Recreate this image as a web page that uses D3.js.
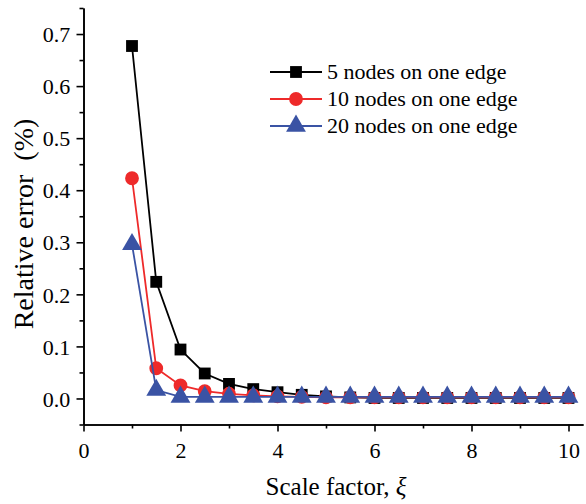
<!DOCTYPE html>
<html><head><meta charset="utf-8">
<script src="https://cdn.jsdelivr.net/npm/d3@7"></script>
<style>html,body{margin:0;padding:0;background:#fff} svg text{font-family:'Liberation Serif','Times New Roman',serif}</style>
</head><body><svg id="c" width="586" height="504"></svg>
<script>
const xVals = [1,1.5,2,2.5,3,3.5,4,4.5,5,5.5,6,6.5,7,7.5,8,8.5,9,9.5,10];
const s5  = [0.677,0.224,0.094,0.048,0.028,0.018,0.012,0.007,0.004,0.002,0.001,0.001,0.001,0.001,0.001,0.001,0.001,0.001,0.001];
const s10 = [0.423,0.058,0.025,0.014,0.009,0.006,0.004,0.003,0.002,0.002,0.002,0.002,0.002,0.002,0.002,0.002,0.002,0.002,0.002];
const s20 = [0.296,0.016,0.003,0.003,0.003,0.003,0.003,0.003,0.003,0.003,0.003,0.003,0.003,0.003,0.003,0.003,0.003,0.003,0.003];
const seriesNames = ["5 nodes on one edge","10 nodes on one edge","20 nodes on one edge"];
const seriesColors = ["#000000","#ee2a2a","#3a53a4"];
const seriesSymbols = [d3.symbolSquare, d3.symbolCircle, d3.symbolTriangle];
const xTicks = [0,2,4,6,8,10];
const yTicks = [0.0,0.1,0.2,0.3,0.4,0.5,0.6,0.7];

const svg = d3.select("#c");
const font = "'Liberation Serif','Times New Roman',serif";
const L = 83.5, T = 8, B = 424.5;
const x = d3.scaleLinear().domain([0,10.3]).range([L, L + 10.3*48.5]);
const y = d3.scaleLinear().domain([-0.05,0.75]).range([B, T]);

// axes
const xAx = svg.append("g").attr("transform",`translate(0,${B})`)
  .call(d3.axisBottom(x).tickValues(xTicks).tickFormat(d3.format("d")).tickSize(7).tickSizeOuter(0));
const xMin = svg.append("g").attr("transform",`translate(0,${B})`)
  .call(d3.axisBottom(x).tickValues([1,3,5,7,9]).tickFormat("").tickSize(4).tickSizeOuter(0));
const yAx = svg.append("g").attr("transform",`translate(${L},0)`)
  .call(d3.axisLeft(y).tickValues(yTicks).tickFormat(d3.format(".1f")).tickSize(7).tickSizeOuter(0));
const yMin = svg.append("g").attr("transform",`translate(${L},0)`)
  .call(d3.axisLeft(y).tickValues([-0.05,0.05,0.15,0.25,0.35,0.45,0.55,0.65,0.75]).tickFormat("").tickSize(4).tickSizeOuter(0));
[xAx,xMin,yAx,yMin].forEach(g=>{
  g.attr("font-family",font);
  g.selectAll("path").attr("stroke","#000").attr("stroke-width",1.6);
  g.selectAll("line").attr("stroke","#000").attr("stroke-width",1.6);
  g.selectAll("text").attr("font-size",22).attr("fill","#000");
});
xAx.selectAll("text").attr("dy","1.05em");
yAx.selectAll("text").attr("dx","-0.15em").attr("dy","0.35em");

// titles
svg.append("text").attr("x",336).attr("y",495).attr("text-anchor","middle")
  .attr("font-size",25)
  .html("Scale factor, <tspan font-style='italic'>ξ</tspan>");
svg.append("text").attr("transform","translate(33,224) rotate(-90)").attr("text-anchor","middle")
  .attr("font-size",28)
  .text("Relative error\u00a0\u00a0(%)");

// series
const data = [s5,s10,s20];
const sizes = [140,150,170];
data.forEach((s,i)=>{
  const pts = xVals.map((v,j)=>[v,s[j]]);
  const g = svg.append("g");
  g.append("path").datum(pts)
    .attr("d", d3.line().x(d=>x(d[0])).y(d=>y(d[1])))
    .attr("fill","none").attr("stroke",seriesColors[i]).attr("stroke-width",1.8);
  g.selectAll("path.m").data(pts).join("path").attr("class","m")
    .attr("transform",d=>`translate(${x(d[0])},${y(d[1])})`)
    .attr("d", d3.symbol().type(seriesSymbols[i]).size(sizes[i]))
    .attr("fill",seriesColors[i]);
});

// legend
const lg = svg.append("g");
seriesNames.forEach((n,i)=>{
  const yy = 72 + i*27;
  lg.append("line").attr("x1",270).attr("x2",322).attr("y1",yy).attr("y2",yy)
    .attr("stroke",seriesColors[i]).attr("stroke-width",1.8);
  lg.append("path").attr("transform",`translate(296,${yy})`)
    .attr("d", d3.symbol().type(seriesSymbols[i]).size(sizes[i])).attr("fill",seriesColors[i]);
  lg.append("text").attr("x",327).attr("y",yy).attr("dy","0.34em")
    .attr("font-size",22).text(n);
});
</script></body></html>
